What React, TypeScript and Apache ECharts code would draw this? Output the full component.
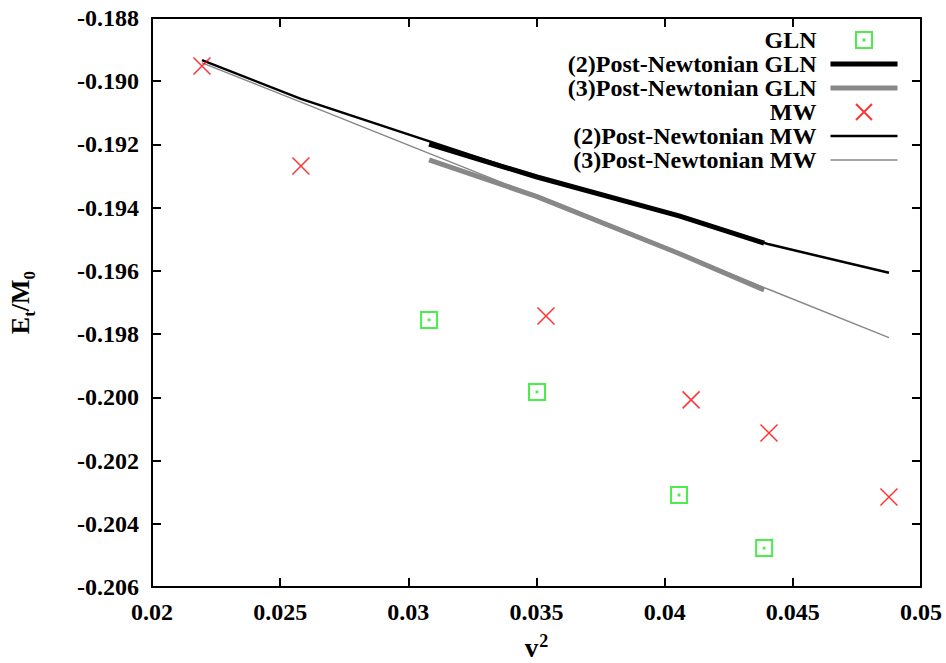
import React, { useEffect, useRef } from "react";
import * as echarts from "echarts";

const glnX = [0.03081, 0.03502, 0.04056, 0.04388];
const glnY = [-0.19755, -0.19983, -0.20309, -0.20477];
const pn2GlnY = [-0.19199, -0.19303, -0.19426, -0.19512];
const pn3GlnY = [-0.19249, -0.19365, -0.19545, -0.1966];

const mwX = [0.02195, 0.02581, 0.03537, 0.04103, 0.04407, 0.04875];
const mwY = [-0.18952, -0.19268, -0.19743, -0.20008, -0.20113, -0.20315];
const pn2MwY = [-0.18933, -0.19056, -0.19312, -0.19436, -0.19516, -0.19606];
const pn3MwY = [-0.18942, -0.19066, -0.19376, -0.19559, -0.19659, -0.19811];

const seriesNames = [
  "GLN",
  "(2)Post-Newtonian GLN",
  "(3)Post-Newtonian GLN",
  "MW",
  "(2)Post-Newtonian MW",
  "(3)Post-Newtonian MW",
];

const FONT = "Liberation Serif";

function pairs(xs: number[], ys: number[]) {
  return xs.map((x, i) => [x, ys[i]]);
}

export default function App() {
  const ref = useRef<HTMLDivElement>(null);
  useEffect(() => {
    if (!ref.current) return;
    const chart = echarts.init(ref.current, undefined, { renderer: "svg" });
    const axisLine = { show: true, onZero: false, lineStyle: { color: "#000", width: 2 } };
    const tick = { show: true, inside: true, length: 9, lineStyle: { color: "#000", width: 2 } };
    const labelStyle = { fontFamily: FONT, fontWeight: "bold" as const, fontSize: 24, color: "#000" };
    const hidden = { opacity: 0 };
    chart.setOption({
      animation: false,
      backgroundColor: "#fff",
      grid: { left: 152, right: 25, top: 18, bottom: 76, containLabel: false, outerBoundsMode: "none" },
      legend: {
        orient: "vertical",
        align: "right",
        right: 46,
        top: 28,
        padding: 0,
        itemWidth: 67,
        itemHeight: 16,
        itemGap: 0,
        selectedMode: false,
        data: [
          { name: seriesNames[0] },
          { name: seriesNames[1], itemStyle: hidden, lineStyle: { color: "#000", width: 5 } },
          { name: seriesNames[2], itemStyle: hidden, lineStyle: { color: "#888", width: 5 } },
          { name: seriesNames[3] },
          { name: seriesNames[4], itemStyle: hidden, lineStyle: { color: "#000", width: 2.5 } },
          { name: seriesNames[5], itemStyle: hidden, lineStyle: { color: "#888", width: 1.5 } },
        ],
        textStyle: {
          fontFamily: FONT,
          fontWeight: "bold",
          fontSize: 24,
          lineHeight: 24,
          color: "#000",
          padding: [0, 9, 0, 0],
        },
      },
      xAxis: [
        {
          type: "value",
          min: 0.02,
          max: 0.05,
          interval: 0.005,
          position: "bottom",
          axisLine,
          axisTick: tick,
          splitLine: { show: false },
          axisLabel: { ...labelStyle, margin: 13 },
          name: "{v|v}{s|2}",
          nameLocation: "middle",
          nameGap: 45,
          nameTextStyle: {
            lineHeight: 29,
            rich: {
              v: { fontFamily: FONT, fontWeight: "bold", fontSize: 27, color: "#000", lineHeight: 29, verticalAlign: "bottom" },
              s: { fontFamily: FONT, fontWeight: "bold", fontSize: 18, color: "#000", verticalAlign: "top", padding: [0, 0, 0, 1] },
            },
          },
        },
        {
          type: "value",
          min: 0.02,
          max: 0.05,
          interval: 0.005,
          position: "top",
          axisLine,
          axisTick: tick,
          splitLine: { show: false },
          axisLabel: { show: false },
        },
      ],
      yAxis: [
        {
          type: "value",
          min: -0.206,
          max: -0.188,
          interval: 0.002,
          position: "left",
          axisLine,
          axisTick: tick,
          splitLine: { show: false },
          axisLabel: { ...labelStyle, margin: 13, formatter: (v: number) => v.toFixed(3) },
          name: "{b|E}{s|t}{b|/M}{s|0}",
          nameLocation: "middle",
          nameRotate: 90,
          nameGap: 114,
          nameTextStyle: {
            lineHeight: 36,
            rich: {
              b: { fontFamily: FONT, fontWeight: "bold", fontSize: 26, color: "#000", lineHeight: 36, verticalAlign: "middle" },
              s: { fontFamily: FONT, fontWeight: "bold", fontSize: 17, color: "#000", verticalAlign: "bottom" },
            },
          },
        },
        {
          type: "value",
          min: -0.206,
          max: -0.188,
          interval: 0.002,
          position: "right",
          axisLine,
          axisTick: tick,
          splitLine: { show: false },
          axisLabel: { show: false },
        },
      ],
      series: [
        {
          name: seriesNames[0],
          type: "scatter",
          data: pairs(glnX, glnY),
          symbol: "path://M0,0H16V16H0Z M7.6,7.6H8.4V8.4H7.6Z",
          symbolSize: 16,
          itemStyle: { color: "none", borderColor: "#1ee81e", borderWidth: 2 },
          z: 5,
        },
        {
          name: seriesNames[1],
          type: "line",
          data: pairs(glnX, pn2GlnY),
          symbol: "none",
          color: "#000",
          lineStyle: { color: "#000", width: 5 },
          z: 4,
        },
        {
          name: seriesNames[2],
          type: "line",
          data: pairs(glnX, pn3GlnY),
          symbol: "none",
          color: "#888",
          lineStyle: { color: "#888", width: 5 },
          z: 4,
        },
        {
          name: seriesNames[3],
          type: "scatter",
          data: pairs(mwX, mwY),
          symbol: "path://M0,0L16,16M16,0L0,16",
          symbolSize: 17,
          itemStyle: { color: "none", borderColor: "#ff0000", borderWidth: 1.5 },
          z: 5,
        },
        {
          name: seriesNames[4],
          type: "line",
          data: pairs(mwX, pn2MwY),
          symbol: "none",
          color: "#000",
          lineStyle: { color: "#000", width: 2.5 },
          z: 3,
        },
        {
          name: seriesNames[5],
          type: "line",
          data: pairs(mwX, pn3MwY),
          symbol: "none",
          color: "#888",
          lineStyle: { color: "#888", width: 1.5 },
          z: 3,
        },
      ],
    });
    return () => chart.dispose();
  }, []);
  return <div ref={ref} style={{ position: "absolute", left: 0, top: 0, width: 946, height: 663 }} />;
}
